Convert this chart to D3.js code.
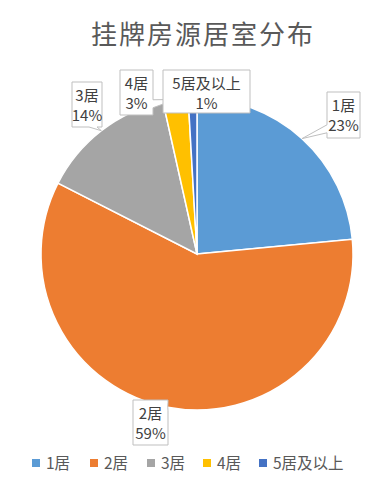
<!DOCTYPE html>
<html>
<head>
<meta charset="utf-8">
<script src="https://cdn.jsdelivr.net/npm/d3@7"></script>
<style>
  html, body { margin: 0; padding: 0; background: #fff; }
  svg { display: block; font-family: "Noto Sans CJK SC", "Noto Sans", sans-serif; }
</style>
</head>
<body>
<div id="chart"></div>
<script>
const categories = ['1居', '2居', '3居', '4居', '5居及以上']
const shares = [23.5, 59.0, 14.0, 2.6, 0.9]
const percentLabels = ['23%', '59%', '14%', '3%', '1%']
const colors = ['#5B9BD5', '#ED7D31', '#A5A5A5', '#FFC000', '#4472C4']

const width = 389
const height = 488
const cx = 197
const cy = 254
const radius = 156

// callout boxes, offsets from pie centre; side = where the pointer leaves the box
const callouts = [
  { dx: 130, dy: -162, w: 33, h: 46, side: 'left', at: 0.8 },
  { dx: -64, dy: 146, w: 35, h: 45, side: 'right', at: 0.15 },
  { dx: -125, dy: -172, w: 30, h: 45, side: 'bottom', at: 0.7 },
  { dx: -77, dy: -184, w: 33, h: 45, side: 'right', at: 0.75 },
  { dx: -34, dy: -184, w: 87, h: 43, side: null }
]

const svg = d3.select('#chart').append('svg')
  .attr('width', width)
  .attr('height', height)

svg.append('text')
  .attr('x', 203)
  .attr('y', 44)
  .attr('text-anchor', 'middle')
  .attr('fill', '#595959')
  .style('font-size', '26px')
  .style('letter-spacing', '2px')
  .text('挂牌房源居室分布')

const pie = d3.pie().sort(null).value(d => d)
const arcs = pie(shares)
const arc = d3.arc().innerRadius(0).outerRadius(radius)
const edge = d3.arc().innerRadius(radius).outerRadius(radius)

const g = svg.append('g').attr('transform', `translate(${cx}, ${cy})`)

g.selectAll('path.slice')
  .data(arcs)
  .enter().append('path')
  .attr('class', 'slice')
  .attr('d', arc)
  .attr('fill', (d, i) => colors[i])
  .attr('stroke', '#fff')
  .attr('stroke-width', 1.5)

function calloutPath(b, tip) {
  const x0 = b.dx, y0 = b.dy, x1 = b.dx + b.w, y1 = b.dy + b.h
  const pts = [[x0, y0], [x1, y0], [x1, y1], [x0, y1]]
  if (!b.side) return 'M' + pts.join('L') + 'Z'
  const pw = 8
  let a, c, insertAfter
  if (b.side === 'left') {
    const y = y0 + b.h * b.at
    a = [x0, y + pw / 2]; c = [x0, y - pw / 2]; insertAfter = 3
  } else if (b.side === 'right') {
    const y = y0 + b.h * b.at
    a = [x1, y - pw / 2]; c = [x1, y + pw / 2]; insertAfter = 1
  } else {
    const x = x0 + b.w * b.at
    a = [x + pw / 2, y1]; c = [x - pw / 2, y1]; insertAfter = 2
  }
  pts.splice(insertAfter + 1, 0, a, tip, c)
  return 'M' + pts.join('L') + 'Z'
}

const labels = g.selectAll('g.callout')
  .data(arcs)
  .enter().append('g')
  .attr('class', 'callout')

labels.append('path')
  .attr('d', (d, i) => calloutPath(callouts[i], edge.centroid(d)))
  .attr('fill', '#fff')
  .attr('stroke', '#BFBFBF')
  .attr('stroke-width', 1)

labels.append('text')
  .attr('x', (d, i) => callouts[i].dx + callouts[i].w / 2)
  .attr('y', (d, i) => callouts[i].dy + 19)
  .attr('text-anchor', 'middle')
  .attr('fill', '#404040')
  .style('font-size', '15px')
  .text((d, i) => categories[i])

labels.append('text')
  .attr('x', (d, i) => callouts[i].dx + callouts[i].w / 2)
  .attr('y', (d, i) => callouts[i].dy + 39)
  .attr('text-anchor', 'middle')
  .attr('fill', '#404040')
  .style('font-size', '15px')
  .text((d, i) => percentLabels[i])

// legend
const legendX = [32, 90, 147, 203, 259]
const legend = svg.selectAll('g.legend')
  .data(categories)
  .enter().append('g')
  .attr('class', 'legend')
  .attr('transform', (d, i) => `translate(${legendX[i]}, 463)`)

legend.append('rect')
  .attr('x', 0).attr('y', -4)
  .attr('width', 8).attr('height', 8)
  .attr('fill', (d, i) => colors[i])

legend.append('text')
  .attr('x', 14)
  .attr('y', 5.5)
  .attr('fill', '#595959')
  .style('font-size', '15.5px')
  .text(d => d)
</script>
</body>
</html>
